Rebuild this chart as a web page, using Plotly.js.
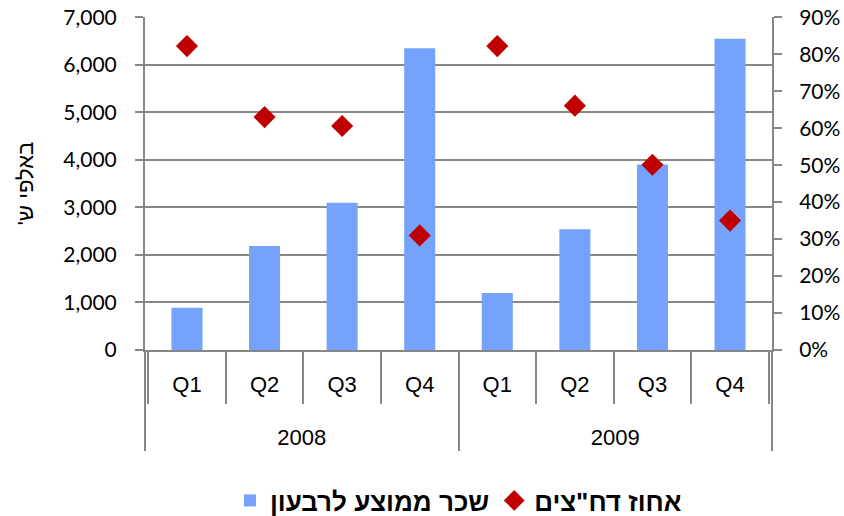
<!DOCTYPE html>
<html>
<head>
<meta charset="utf-8">
<script src="https://cdn.plot.ly/plotly-3.0.1.min.js"></script>
<style>html,body{margin:0;padding:0;background:#fff;}#chart{width:844px;height:516px;}</style>
</head>
<body>
<div id="chart"></div>
<script>
const years = ["2008","2008","2008","2008","2009","2009","2009","2009"];
const quarters = ["Q1","Q2","Q3","Q4","Q1","Q2","Q3","Q4"];
const avgSalary = [890, 2190, 3100, 6350, 1200, 2540, 3900, 6550];
const indepDirectorsPct = [0.822, 0.630, 0.606, 0.310, 0.822, 0.661, 0.501, 0.350];
const salaryName = "שכר ממוצע לרבעון";
const pctName = "אחוז דח\"צים";
const yTitle = "באלפי ש'\u200F";

// category keys built from the arrays above
const cats = years.map((y, i) => y + " " + quarters[i]);
// year groups: centre index and boundaries, derived from the years array
const yearList = [...new Set(years)];
const yearCentres = yearList.map(y => (years.indexOf(y) + years.lastIndexOf(y)) / 2);
const yearBounds = [-0.5].concat(yearList.map(y => years.lastIndexOf(y) + 0.5));

// axis ranges (tiny headroom so the top gridline is drawn)
const yMax = 7000, y2Max = 0.9, head = 1.0008;

const axisGray = "#878787";
const tickFont = {family: "Lato, 'Liberation Sans', sans-serif", size: 21, color: "#000"};
const catFont = {family: "'Liberation Sans', Arial, sans-serif", size: 22, color: "#000"};

const traces = [
  {
    type: "bar",
    name: salaryName,
    x: cats,
    y: avgSalary,
    marker: {color: "#74A2FC"},
    hoverinfo: "y"
  },
  {
    type: "scatter",
    mode: "markers",
    name: pctName,
    x: cats,
    y: indepDirectorsPct,
    yaxis: "y2",
    marker: {symbol: "diamond", color: "#C00000", size: 17}
  },
  {
    // empty helper trace so the year-level axis is drawn
    type: "scatter",
    mode: "markers",
    x: [],
    y: [],
    xaxis: "x2",
    showlegend: false,
    hoverinfo: "skip"
  }
];

const layout = {
  width: 844,
  height: 516,
  margin: {l: 145, r: 72, t: 17, b: 166, autoexpand: false},
  paper_bgcolor: "#fff",
  plot_bgcolor: "#fff",
  bargap: 0.6,
  showlegend: true,
  legend: {
    orientation: "h",
    x: 0.5, xanchor: "center",
    y: -0.452, yanchor: "middle",
    font: {family: "'Liberation Sans', Arial, sans-serif", size: 26, color: "#000", weight: "bold"},
    itemwidth: 30
  },
  xaxis: {
    type: "category",
    automargin: false,
    tickmode: "array",
    tickvals: cats,
    ticktext: quarters,
    tickson: "boundaries",
    ticks: "outside",
    ticklen: 52,
    tickcolor: axisGray,
    tickwidth: 2,
    showline: true,
    linecolor: axisGray,
    linewidth: 2,
    showgrid: false,
    ticklabelstandoff: 14,
    tickfont: catFont
  },
  xaxis2: {
    overlaying: "x",
    anchor: "y",
    side: "bottom",
    type: "linear",
    automargin: false,
    range: [-0.5, cats.length - 0.5],
    tickmode: "array",
    tickvals: yearCentres,
    ticktext: yearList,
    ticks: "",
    showline: false,
    linecolor: "rgba(0,0,0,0)",
    showgrid: false,
    zeroline: false,
    ticklabelstandoff: 72,
    tickfont: catFont,
    minor: {
      tickmode: "array",
      tickvals: yearBounds,
      ticks: "outside",
      ticklen: 100,
      tickcolor: axisGray,
      tickwidth: 2,
      showgrid: false
    }
  },
  yaxis: {
    automargin: false,
    range: [0, yMax * head],
    tickvals: [0, 1000, 2000, 3000, 4000, 5000, 6000, 7000],
    tickformat: ",d",
    ticks: "outside",
    ticklen: 8,
    tickcolor: axisGray,
    tickwidth: 2,
    showline: true,
    linecolor: axisGray,
    linewidth: 2,
    gridcolor: axisGray,
    gridwidth: 2,
    zeroline: false,
    ticklabelstandoff: 14,
    tickfont: tickFont,
    title: {text: yTitle, font: {family: "'Liberation Sans', Arial, sans-serif", size: 22, color: "#000"}, standoff: 24}
  },
  yaxis2: {
    automargin: false,
    overlaying: "y",
    side: "right",
    range: [0, y2Max * head],
    tickvals: [0, 0.1, 0.2, 0.3, 0.4, 0.5, 0.6, 0.7, 0.8, 0.9],
    tickformat: ".0%",
    ticks: "outside",
    ticklen: 8,
    tickcolor: axisGray,
    tickwidth: 2,
    showline: true,
    linecolor: axisGray,
    linewidth: 2,
    showgrid: false,
    zeroline: false,
    ticklabelstandoff: 13,
    tickfont: tickFont
  }
};

Plotly.newPlot("chart", traces, layout, {displayModeBar: false, staticPlot: true});
</script>
</body>
</html>
